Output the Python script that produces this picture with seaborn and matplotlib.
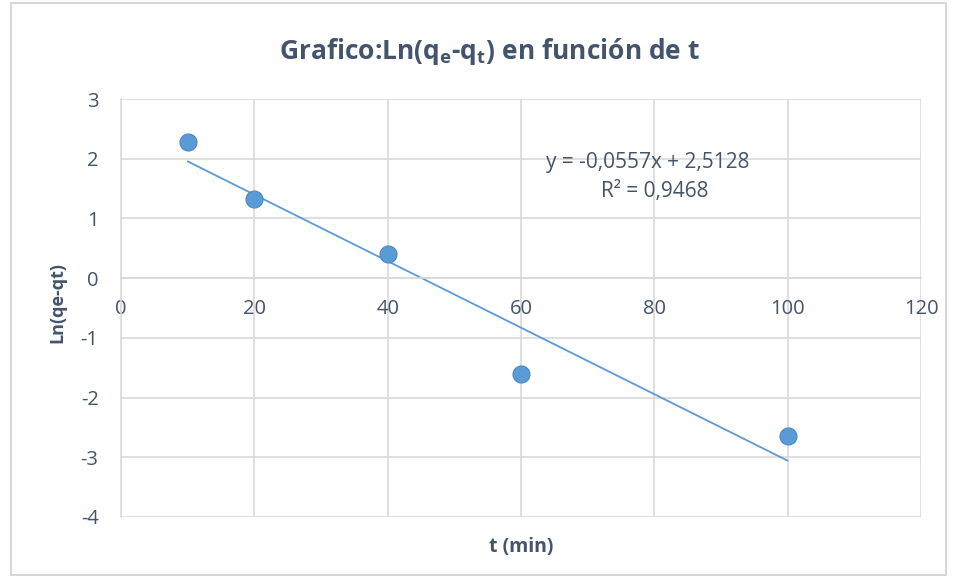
import numpy as np
import pandas as pd
import seaborn as sns
from matplotlib import pyplot as plt
from matplotlib.patches import Rectangle

sns.set_theme(style="whitegrid")
plt.rcParams["font.family"] = ["Open Sans", "DejaVu Sans"]
plt.rcParams["axes.unicode_minus"] = False

t_min = [10, 20, 40, 60, 100]
ln_qe_qt = [2.28, 1.32, 0.40, -1.61, -2.65]
slope = -0.0557
intercept = 2.5128
r2 = 0.9468

text_col = "#44546A"
grid_col = "#D9D9D9"
blue = "#5B9BD5"

df = pd.DataFrame({"t": t_min, "y": ln_qe_qt})

fig = plt.figure(figsize=(9.57, 5.77), dpi=100)
fig.patches.append(Rectangle((0.011, 0.004), 0.978, 0.99, transform=fig.transFigure,
                             fill=False, edgecolor="#D0D0D0", linewidth=1.2))
ax = fig.add_axes([0.1264, 0.104, 0.836, 0.7244])

sns.scatterplot(data=df, x="t", y="y", ax=ax, s=150, color=blue,
                edgecolor="#4A89C4", linewidth=0.8, zorder=3)

# linear trendline over the data range
xs = np.array([min(t_min), max(t_min)])
ax.plot(xs, slope * xs + intercept, color=blue, linewidth=1.3, zorder=2)

ax.set_xlim(0, 120)
ax.set_ylim(-4, 3)
ax.set_xticks(range(0, 121, 20))
ax.set_yticks(range(-4, 4))
ax.grid(True, color=grid_col, linewidth=1.2)
for s in ["top", "right"]:
    ax.spines[s].set_visible(False)
ax.spines["bottom"].set_position(("data", 0))
ax.spines["bottom"].set_color(grid_col)
ax.spines["left"].set_color(grid_col)
ax.spines["bottom"].set_linewidth(1.2)
ax.spines["left"].set_linewidth(1.2)
ax.tick_params(axis="both", length=0, labelsize=14.5, labelcolor=text_col)
ax.tick_params(axis="x", pad=15)
ax.tick_params(axis="y", pad=16)

ax.set_xlabel("t (min)", fontsize=14, fontweight="bold", color=text_col)
ax.xaxis.set_label_coords(0.5, -0.048)
ax.set_ylabel("Ln(qe-qt)", fontsize=13, fontweight="bold", color=text_col)
ax.yaxis.set_label_coords(-0.068, 0.514)

fig.text(0.512, 0.91, r"Grafico:Ln(q$_\mathregular{e}$-q$_\mathregular{t}$) en función de t",
         ha="center", va="center", fontsize=19, fontweight="bold", color=text_col)

ax.text(79, 1.93, "y = -0,0557x + 2,5128", ha="center", va="center",
        fontsize=15, color=text_col)
ax.text(80, 1.45, "R² = 0,9468", ha="center", va="center",
        fontsize=15, color=text_col)

plt.savefig("out.png", dpi=100)
